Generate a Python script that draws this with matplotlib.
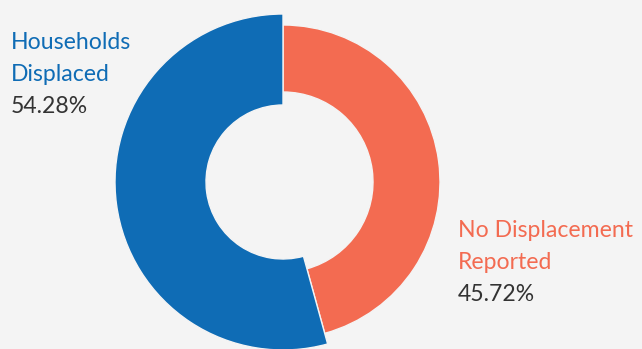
import matplotlib

matplotlib.use("Agg")
import matplotlib.pyplot as plt

# share of households, drawn clockwise from the top
categories = ["No Displacement Reported", "Households Displaced"]
label_lines = [["No Displacement", "Reported"], ["Households", "Displaced"]]
shares = [45.72, 54.28]

colors = ["#f36b51", "#0f6cb5"]
bg = "#f4f4f4"

W, H = 642, 349
fig = plt.figure(figsize=(W / 100, H / 100), dpi=100, facecolor=bg)
ax = fig.add_axes([0, 0, 1, 1])
ax.set_facecolor(bg)

center = (283, H - 182)
wedges, _ = ax.pie(
    shares,
    colors=colors,
    startangle=90,
    counterclock=False,
    center=center,
    radius=160,
    wedgeprops=dict(edgecolor=bg, linewidth=1),
)
# the displaced slice is drawn thicker than the other one
rings = [(157, 67), (168, 91)]
for w, (r, width) in zip(wedges, rings):
    w.set_radius(r)
    w.set_width(width)

ax.set_xlim(0, W)
ax.set_ylim(0, H)
ax.set_aspect("auto")
ax.axis("off")

font = "Lato"
size = 16.6
# label blocks: (x, first baseline) in pixels from the top-left
spots = [(458, 237), (11, 49)]
for lines, val, col, (x, y0) in zip(label_lines, shares, colors, spots):
    for i, line in enumerate(lines):
        ax.text(x, H - (y0 + 32 * i), line, color=col, fontsize=size,
                family=font, va="baseline", ha="left")
    ax.text(x, H - (y0 + 32 * len(lines)), f"{val:.2f}%", color="#333333",
            fontsize=size, family=font, va="baseline", ha="left")

fig.savefig("out.png", dpi=100, facecolor=bg)
